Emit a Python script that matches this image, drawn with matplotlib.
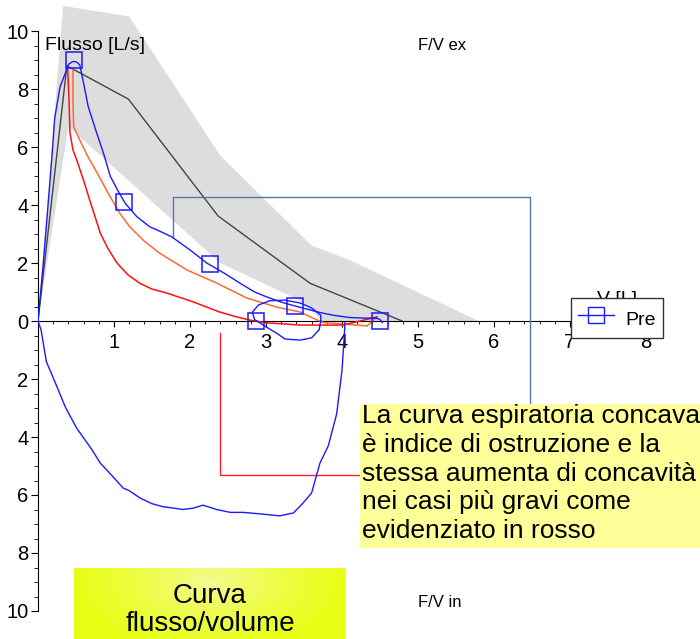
import numpy as np
import matplotlib
matplotlib.use("Agg")
import matplotlib.pyplot as plt
from matplotlib.lines import Line2D
from matplotlib.patches import Rectangle

plt.rcParams['font.family'] = ['Liberation Sans', 'DejaVu Sans']

# predicted band (upper edge then lower edge back)
band_x = [0.37, 1.2, 2.4, 3.6, 4.1, 5.8, 3.75, 3.45, 2.4, 0.4, 0.0, 0.33]
band_y = [10.85, 10.5, 5.7, 2.6, 2.1, 0.0, 0.0, 0.7, 2.0, 6.7, 0.0, 10.85]

# predicted curve
pred_x = [0, 0.38, 1.19, 2.37, 3.58, 4.79]
pred_y = [0, 8.8, 7.65, 3.62, 1.3, 0.0]

# "Pre" expiratory curve
exp_x = [0, 0.07, 0.13, 0.18, 0.22, 0.29, 0.36, 0.4, 0.46, 0.51, 0.55, 0.6, 0.66,
         0.77, 0.86, 0.95, 1.05, 1.15, 1.3, 1.47, 1.6, 1.76, 2.0, 2.22, 2.45, 2.66,
         2.85, 3.01, 3.2, 3.45, 3.7, 3.88, 4.1, 4.3, 4.45, 4.5, 4.53]
exp_y = [0, 2.0, 3.93, 5.55, 7.0, 8.07, 8.55, 8.85, 8.95, 8.93, 8.83, 8.2, 7.4,
         6.5, 5.8, 5.0, 4.5, 4.05, 3.6, 3.25, 3.1, 2.9, 2.45, 2.0, 1.65, 1.3,
         1.0, 0.83, 0.65, 0.47, 0.3, 0.2, 0.12, 0.1, 0.1, 0.05, -0.05]

# small end loop
loop_x = [3.72, 3.7, 3.6, 3.45, 3.25, 3.14, 3.0, 2.85, 2.82, 2.9, 3.05, 3.25, 3.45, 3.6, 3.72, 3.72]
loop_y = [0.0, -0.3, -0.58, -0.66, -0.62, -0.42, -0.2, 0.05, 0.3, 0.55, 0.7, 0.72, 0.62, 0.45, 0.2, 0.0]

# "Pre" inspiratory curve (drawn downward)
ins_x = [0, 0.04, 0.11, 0.25, 0.36, 0.51, 0.7, 0.82, 0.98, 1.12, 1.2, 1.34, 1.5,
         1.64, 1.91, 2.05, 2.17, 2.35, 2.53, 2.7, 2.92, 3.18, 3.36, 3.48, 3.6,
         3.71, 3.82, 3.93, 4.0, 4.03, 4.04]
ins_y = [0, -0.3, -1.4, -2.27, -2.97, -3.7, -4.4, -4.9, -5.35, -5.76, -5.85, -6.1, -6.3,
         -6.4, -6.5, -6.45, -6.35, -6.5, -6.6, -6.6, -6.65, -6.72, -6.62, -6.3, -5.93,
         -4.9, -4.3, -3.2, -1.7, -0.5, -0.05]

# severe obstruction (red)
red_x = [0.39, 0.41, 0.42, 0.46, 0.51, 0.6, 0.68, 0.82, 0.92, 1.04, 1.18, 1.34, 1.5,
         1.7, 2.04, 2.2, 2.39, 2.6, 2.79, 3.0, 3.45, 4.01, 4.46]
red_y = [8.76, 7.5, 6.5, 5.9, 5.55, 4.85, 4.17, 3.03, 2.5, 2.0, 1.6, 1.3, 1.1,
         0.96, 0.66, 0.5, 0.31, 0.15, 0.03, -0.06, -0.14, -0.14, 0.14]

# moderate obstruction (orange)
org_x = [0.46, 0.46, 0.47, 0.55, 0.65, 0.78, 0.95, 1.08, 1.21, 1.4, 1.6, 1.96, 2.35,
         2.55, 2.75, 3.14, 3.45, 3.6, 3.75, 4.0, 4.33, 4.46]
org_y = [8.7, 7.5, 6.7, 6.24, 5.7, 5.1, 4.28, 3.7, 3.24, 2.75, 2.34, 1.76, 1.31,
         1.05, 0.79, 0.48, 0.31, 0.12, -0.05, -0.1, -0.17, 0.14]

# square markers on the Pre curve
mk_x = [0.47, 1.13, 2.26, 3.38, 2.87, 4.5]
mk_y = [9.0, 4.12, 1.97, 0.52, 0.0, 0.0]

yticks = [10, 8, 6, 4, 2, 0, -2, -4, -6, -8, -10]
xticks = [1, 2, 3, 4, 5, 6, 7, 8]

note_lines = ["La curva espiratoria concava",
              "è indice di ostruzione e la",
              "stessa aumenta di concavità",
              "nei casi più gravi come",
              "evidenziato in rosso"]

W, H = 700, 639
fig = plt.figure(figsize=(7, 6.39), dpi=100)
ax = fig.add_axes([38 / W, 0, 662 / W, 1])
ax.set_xlim(0, 662 / 76)
ax.set_ylim(-318 / 29, 321 / 29)

ax.fill(band_x, band_y, color='#dddddd', lw=0, zorder=1)
ax.plot(pred_x, pred_y, color='#444444', lw=1, zorder=2)
ax.plot(org_x, org_y, color='#ff6a33', lw=1.1, zorder=3)
ax.plot(red_x, red_y, color='#ff1010', lw=1.1, zorder=3)
ax.plot(exp_x, exp_y, color='#1a1aff', lw=1, zorder=4)
ax.plot(loop_x, loop_y, color='#1a1aff', lw=1, zorder=4)
ax.plot(ins_x, ins_y, color='#1a1aff', lw=1, zorder=4)
ax.plot(mk_x, mk_y, ls='none', marker='s', ms=11, mfc='none', mec='#1a1aff', mew=1.1, zorder=4)

# annotation connector lines
ax.plot([1.78, 1.78, 6.47, 6.47], [2.9, 4.28, 4.28, -2.86], color='#5577aa', lw=1, zorder=2.6)
ax.plot([2.39, 2.39, 4.26], [-0.4, -5.3, -5.3], color='#ff2020', lw=1, zorder=2.6)

# axes styling
for s in ['top', 'right']:
    ax.spines[s].set_visible(False)
ax.spines['bottom'].set_position(('data', 0))
ax.spines['bottom'].set_bounds(0, 8)
ax.spines['left'].set_bounds(-10, 10)
ax.set_yticks(yticks)
ax.set_yticklabels([str(abs(v)) for v in yticks])
ax.set_yticks(np.arange(-10, 10.01, 0.5), minor=True)
ax.set_xticks(xticks)
ax.set_xticklabels([str(v) for v in xticks])
ax.set_xticks(np.arange(0, 8.01, 0.2), minor=True)
ax.tick_params(axis='y', which='major', length=5, labelsize=14.5, pad=2)
ax.tick_params(axis='y', which='minor', length=3)
ax.tick_params(axis='x', which='major', length=4.3, labelsize=14.5, pad=4.5)
ax.tick_params(axis='x', which='minor', length=2.2)

ax.text(0.09, 9.5, "Flusso [L/s]", fontsize=14, va='center', ha='left')
ax.text(5.0, 9.5, "F/V ex", fontsize=12, va='center', ha='left')
ax.text(5.0, -9.72, "F/V in", fontsize=12, va='center', ha='left')
ax.text(7.35, 0.75, "V [L]", fontsize=14, va='center', ha='left')

handle = Line2D([], [], color='#1a1aff', lw=1, marker='s', ms=11, mfc='none', mec='#1a1aff')
leg = ax.legend([handle], ["Pre"], loc='upper left', bbox_to_anchor=(571 / W, 1 - 298 / H),
                bbox_transform=fig.transFigure, borderaxespad=0, fancybox=False,
                framealpha=1, edgecolor='#333333', fontsize=14, handlelength=1.85,
                handleheight=1.75, handletextpad=0.6, borderpad=0.35)
leg.get_frame().set_linewidth(1)
leg.set_zorder(10)

# yellow note box
fig.add_artist(Rectangle((360 / W, 1 - 548 / H), 340 / W, 144 / H, transform=fig.transFigure,
                         fc='#ffff99', ec='none', zorder=5))
for i, line in enumerate(note_lines):
    base = 423 + i * 28.8
    fig.text(362 / W, 1 - base / H, line, fontsize=19, va='baseline', ha='left', zorder=6)

# title box with gradient
tax = fig.add_axes([74 / W, 0, 272 / W, 71 / H])
gx = np.linspace(-1, 1, 272)
gy = np.linspace(-1, 1, 71)
XX, YY = np.meshgrid(gx, gy)
d = np.clip(np.sqrt((XX * 1.0) ** 2 + (YY * 0.5 + 0.3) ** 2), 0, 1) ** 0.7
edge = np.array([0.91, 1.0, 0.08])
center = np.array([0.97, 0.98, 0.62])
img = center[None, None, :] * (1 - d[..., None]) + edge[None, None, :] * d[..., None]
tax.imshow(img, aspect='auto', extent=[0, 1, 0, 1])
tax.set_axis_off()
fig.text(210 / W, 1 - 603 / H, "Curva", fontsize=20, ha='center', va='baseline')
fig.text(210 / W, 1 - 631 / H, "flusso/volume", fontsize=20, ha='center', va='baseline')

fig.savefig("out.png", dpi=100)
